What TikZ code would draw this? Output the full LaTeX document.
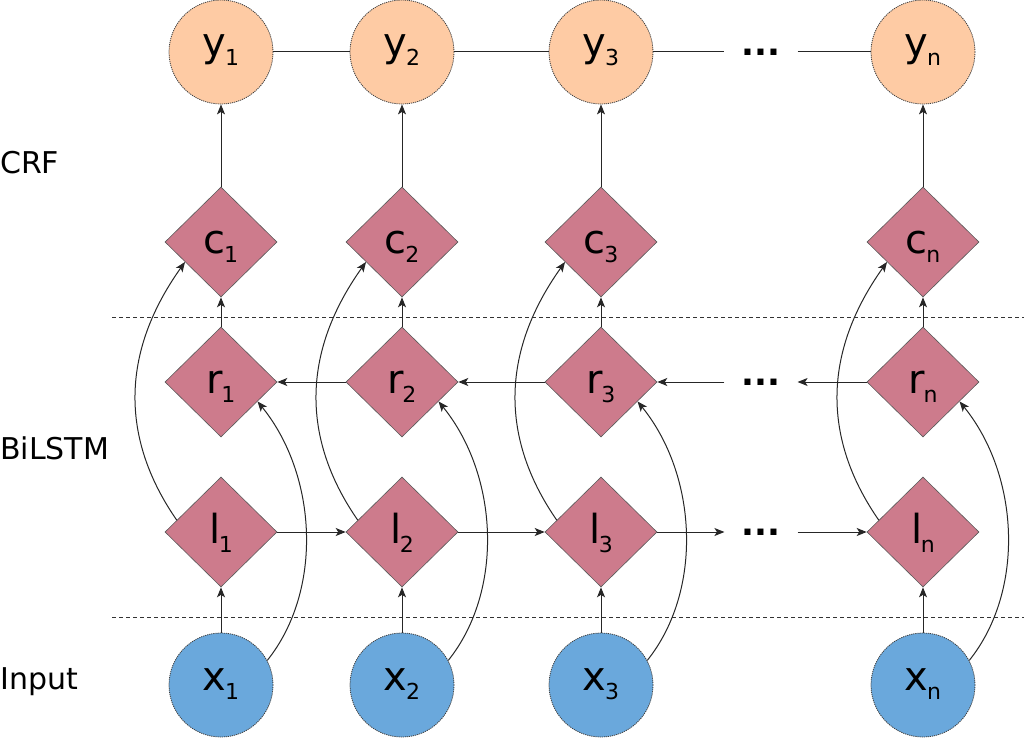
\documentclass[tikz,border=0pt]{standalone}
\usepackage{fontspec}
\setmainfont{DejaVu Sans}
\usetikzlibrary{shapes.geometric,arrows.meta}
\definecolor{peach}{HTML}{FECBA4}
\definecolor{rose}{HTML}{CD7B8C}
\definecolor{skyb}{HTML}{6AA8DC}
\newcommand{\sbs}[1]{\kern-1.5bp\raisebox{-9bp}{\fontsize{22bp}{22bp}\selectfont #1}}
\begin{document}
\begin{tikzpicture}[x=1bp,y=-1bp,
  nodefont/.style={font=\fontsize{40bp}{40bp}\selectfont},
  circ/.style={circle, nodefont, minimum size=104bp, inner sep=0pt, draw=black!75, line width=0.8bp, dash pattern=on 1.2bp off 0.9bp, text height=22bp, text depth=12bp},
  ycirc/.style={circ, fill=peach},
  xcirc/.style={circ, fill=skyb},
  dia/.style={diamond, nodefont, fill=rose, draw=black!65, line width=0.6bp, inner sep=0pt, minimum width=112bp, minimum height=110bp, text height=30bp, text depth=8bp},
  dots/.style={font=\fontsize{34bp}{34bp}\selectfont\bfseries, inner xsep=17bp, inner ysep=0pt},
  lab/.style={anchor=base west, inner sep=0pt, font=\fontsize{30bp}{30bp}\selectfont},
  conn/.style={draw=black!85, line width=1bp},
  arr/.style={conn, -{Stealth[length=10bp,width=8bp,inset=2.5bp]}},
  sep/.style={draw=black!80, line width=0.7bp, dash pattern=on 4bp off 3bp}
]
\useasboundingbox (0,0) rectangle (1024,738);

% layer labels
\node[lab] (lcrf) at (0,173) {CRF};
\node[lab] (lbil) at (0,459) {BiLSTM};
\node[lab] (linp) at (0,689) {Input};

% separators
\coordinate (s1a) at (112,317);
\coordinate (s1b) at (1024,317);
\coordinate (s2a) at (112,617);
\coordinate (s2b) at (1024,617);
\draw[sep] (s1a) -- (s1b);
\draw[sep] (s2a) -- (s2b);

% nodes
\foreach \i/\X in {1/221,2/402,3/601,n/923}{
  \node[ycirc] (y\i) at (\X,52) {y\sbs{\i}};
  \node[dia] (c\i) at (\X,242) {c\sbs{\i}};
  \node[dia] (r\i) at (\X,382) {r\sbs{\i}};
  \node[dia] (l\i) at (\X,532) {l\sbs{\i}};
  \node[xcirc] (x\i) at (\X,685) {x\sbs{\i}};
}
\node[dots] (dt) at (761,52) {...};
\node[dots] (dr) at (761,382) {...};
\node[dots] (dl) at (761,532) {...};

% vertical connectors and skip curves
\foreach \i in {1,2,3,n}{
  \draw[arr] (x\i) -- (l\i);
  \draw[arr] (r\i) -- (c\i);
  \draw[arr] (c\i) -- (y\i);
  \draw[arr] (l\i.165) .. controls +(-52,-75) and +(-69,97) .. (c\i.209);
  \draw[arr] (x\i.28) .. controls +(56,-70) and +(60,74) .. (r\i.332);
}

% CRF chain
\draw[conn] (y1) -- (y2);
\draw[conn] (y2) -- (y3);
\draw[conn] (y3) -- (dt);
\draw[conn] (dt) -- (yn);

% forward LSTM
\draw[arr] (l1.east) -- (l2.west);
\draw[arr] (l2.east) -- (l3.west);
\draw[arr] (l3.east) -- (dl);
\draw[arr] (dl) -- (ln.west);

% backward LSTM
\draw[arr] (rn.west) -- (dr);
\draw[arr] (dr) -- (r3.east);
\draw[arr] (r3.west) -- (r2.east);
\draw[arr] (r2.west) -- (r1.east);
\end{tikzpicture}
\end{document}
